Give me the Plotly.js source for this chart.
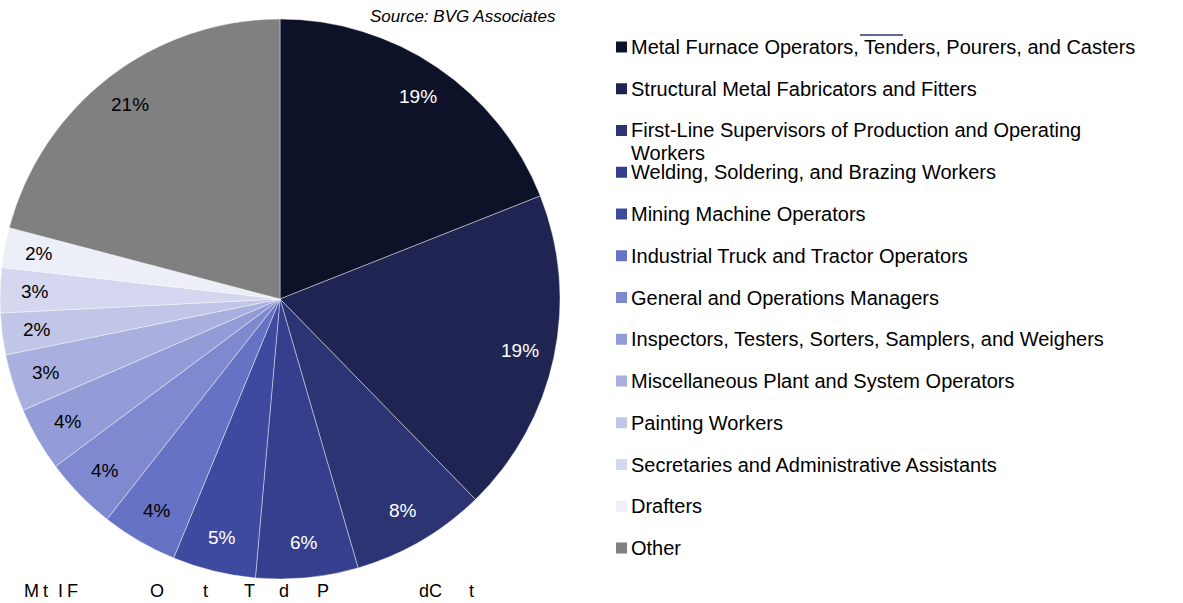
<!DOCTYPE html>
<html>
<head>
<meta charset="utf-8">
<script src="https://cdn.plot.ly/plotly-3.0.1.min.js"></script>
<style>html,body{margin:0;padding:0;background:#fff;}#chart{width:1183px;height:603px;}</style>
</head>
<body>
<div id="chart"></div>
<script>
// ---- data ----
const categories = [
  "Metal Furnace Operators, Tenders, Pourers, and Casters",
  "Structural Metal Fabricators and Fitters",
  "First-Line Supervisors of Production and Operating<br>Workers",
  "Welding, Soldering, and Brazing Workers",
  "Mining Machine Operators",
  "Industrial Truck and Tractor Operators",
  "General and Operations Managers",
  "Inspectors, Testers, Sorters, Samplers, and Weighers",
  "Miscellaneous Plant and System Operators",
  "Painting Workers",
  "Secretaries and Administrative Assistants",
  "Drafters",
  "Other"
];
const shares = [19.0, 18.7, 7.8, 5.9, 4.8, 4.4, 4.2, 3.7, 3.3, 2.4, 2.6, 2.3, 20.9];
const shareLabels = ["19%","19%","8%","6%","5%","4%","4%","4%","3%","2%","3%","2%","21%"];
const sliceColors = ["#0e1229","#1f2452","#2c3473","#353f8d","#3d4a9f","#6672c3","#7f89cf",
                     "#939cd6","#a9afde","#c1c5e7","#d4d7ef","#eceef8","#808080"];
const labelColors = ["#ffffff","#ffffff","#ffffff","#ffffff","#ffffff","#000000","#000000",
                     "#000000","#000000","#000000","#000000","#000000","#000000"];
const sourceText = "Source: BVG Associates";
const bottomGlyphs = ["M","t","I","F","O","t","T","d","P","dC","t"];
const bottomGlyphX = [22, 41, 56, 65, 148, 201, 242, 277, 315, 417, 467];

// ---- layout helpers ----
const W = 1183, H = 603;
const pieDomX = [0, 560 / W];
const pieDomY = [(H - 579) / H, (H - 19) / H];
const FONT = "Liberation Sans, Arial, sans-serif";

const pie = {
  type: "pie",
  labels: categories,
  values: shares,
  text: shareLabels,
  sort: false,
  direction: "clockwise",
  rotation: 0,
  marker: { colors: sliceColors, line: { color: "rgba(255,255,255,0.7)", width: 0.6 } },
  textinfo: "none",
  hoverinfo: "label+percent",
  domain: { x: pieDomX, y: pieDomY },
  showlegend: false
};

// slice labels: placed along each slice's mid-angle (derived from the values), at 0.875 of the radius
const cxPx = (pieDomX[0] + pieDomX[1]) / 2 * W;
const cyPx = (1 - (pieDomY[0] + pieDomY[1]) / 2) * H;
const rPx = Math.min((pieDomX[1] - pieDomX[0]) * W, (pieDomY[1] - pieDomY[0]) * H) / 2;
const total = shares.reduce((a, b) => a + b, 0);
let cum = 0;
const annotations = [];
shares.forEach((v, i) => {
  const a = (cum + v / 2) / total * 2 * Math.PI; cum += v;
  const px = cxPx + 0.875 * rPx * Math.sin(a);
  const py = cyPx - 0.875 * rPx * Math.cos(a);
  annotations.push({
    xref: "paper", yref: "paper", x: px / W, y: 1 - py / H, xanchor: "center", yanchor: "middle",
    showarrow: false, text: shareLabels[i],
    font: { family: FONT, size: 19, color: labelColors[i] }
  });
});

// manual legend built from categories/colours
const legTop = 47, legStep = 41.75, legX0 = 616, legSq = 11;
const shapes = categories.map((c, i) => ({
  type: "rect", xref: "paper", yref: "paper",
  x0: legX0 / W, x1: (legX0 + legSq) / W,
  y0: 1 - (legTop + legStep * i + legSq / 2) / H,
  y1: 1 - (legTop + legStep * i - legSq / 2) / H,
  fillcolor: sliceColors[i], line: { width: 0 }
}));
shapes.push({ type: "line", xref: "paper", yref: "paper",
  x0: 860 / W, x1: 903 / W, y0: 1 - 35 / H, y1: 1 - 35 / H,
  line: { color: "#2c3473", width: 1.5 } });

categories.forEach((c, i) => {
  const parts = c.split("<br>");
  parts.forEach((p, j) => {
    annotations.push({
      xref: "paper", yref: "paper", x: 629 / W, y: 1 - (legTop + legStep * i + 22 * j) / H,
      xanchor: "left", yanchor: "middle", showarrow: false, text: p,
      font: { family: FONT, size: 20, color: "#000" }
    });
  });
});
annotations.push({
  xref: "paper", yref: "paper", x: 558 / W, y: 1 - 17 / H, xanchor: "right", yanchor: "middle",
  showarrow: false, text: "<i>" + sourceText + "</i>",
  font: { family: FONT, size: 17, color: "#000" }
});
bottomGlyphs.forEach((g, i) => {
  annotations.push({
    xref: "paper", yref: "paper", x: bottomGlyphX[i] / W, y: 1 - 591 / H, xanchor: "left", yanchor: "middle",
    showarrow: false, text: g,
    font: { family: FONT, size: 18, color: "#000" }
  });
});

const layout = {
  width: W, height: H,
  margin: { l: 0, r: 0, t: 0, b: 0, pad: 0 },
  paper_bgcolor: "#ffffff",
  showlegend: false,
  shapes: shapes,
  annotations: annotations
};

Plotly.newPlot("chart", [pie], layout, { displayModeBar: false, staticPlot: true });
</script>
</body>
</html>
